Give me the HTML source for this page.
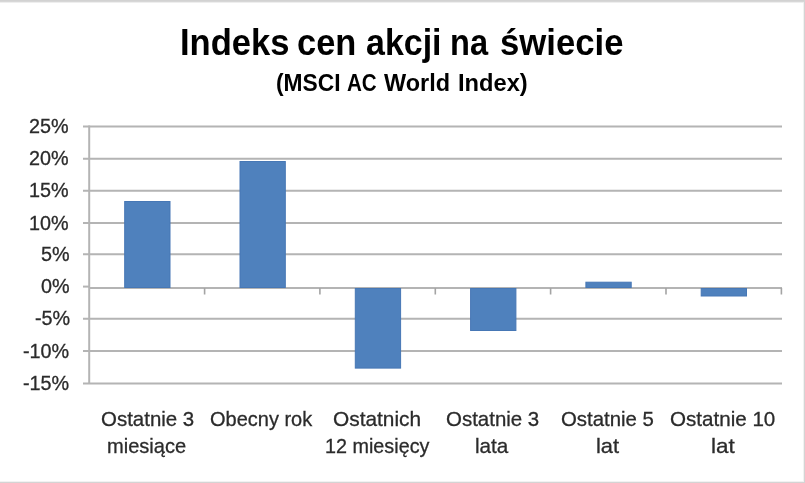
<!DOCTYPE html>
<html><head><meta charset="utf-8">
<style>
html,body{margin:0;padding:0;background:#fff;}
body{width:805px;height:483px;position:relative;overflow:hidden;font-family:"Liberation Sans",sans-serif;}
#wrap{position:absolute;left:0;top:0;width:805px;height:483px;filter:blur(0.45px);}
.t{position:absolute;white-space:nowrap;transform-origin:0 0;line-height:1;}
</style></head><body><div id="wrap">
<svg width="805" height="483" style="position:absolute;left:0;top:0">
  <g stroke="#b4b4b4" stroke-width="2" fill="none">
    <path d="M83 126.4H782M83 158.7H782M83 190.8H782M83 223.1H782M83 254.3H782M83 318.8H782M83 351.1H782M83 383.4H782"/>
    <path d="M83 286.6H89.2"/>
    <path d="M89.2 125.4V383.8"/>
    <path d="M89.3 287.9H782"/>
  </g>
  <path stroke="#a4a4a4" stroke-width="1.6" fill="none" d="M204.6 288v6.5M319.9 288v6.5M435.3 288v6.5M550.6 288v6.5M666 288v6.5M781.4 288v6.5"/>
  <g fill="#4f81bd" stroke="#4677b5" stroke-width="1">
    <rect x="124.7" y="201.5" width="45.3" height="86"/>
    <rect x="240.0" y="161.5" width="45.3" height="126"/>
    <rect x="355.3" y="288.5" width="45.3" height="79.6"/>
    <rect x="470.6" y="288.5" width="45.3" height="42"/>
    <rect x="585.9" y="282.2" width="45.3" height="5.3"/>
    <rect x="701.2" y="288.5" width="45.3" height="7.5"/>
  </g>
</svg>

<div class="t" style="left:179.86px;top:23.68px;font-size:37.0px;font-weight:bold;color:#000;transform:scaleX(0.9348);">Indeks</div>
<div class="t" style="left:297.00px;top:23.68px;font-size:37.0px;font-weight:bold;color:#000;transform:scaleX(0.9296);">cen</div>
<div class="t" style="left:365.89px;top:23.68px;font-size:37.0px;font-weight:bold;color:#000;transform:scaleX(0.9173);">akcji</div>
<div class="t" style="left:450.19px;top:23.68px;font-size:37.0px;font-weight:bold;color:#000;transform:scaleX(0.8801);">na</div>
<div class="t" style="left:500.30px;top:23.68px;font-size:37.0px;font-weight:bold;color:#000;transform:scaleX(0.9381);">świecie</div>
<div class="t" style="left:275.86px;top:71.93px;font-size:23px;font-weight:bold;color:#000;transform:scaleX(0.9908);">(MSCI</div>
<div class="t" style="left:346.74px;top:71.93px;font-size:23px;font-weight:bold;color:#000;transform:scaleX(0.8950);">AC</div>
<div class="t" style="left:384.48px;top:71.93px;font-size:23px;font-weight:bold;color:#000;transform:scaleX(1.0199);">World</div>
<div class="t" style="left:457.78px;top:71.93px;font-size:23px;font-weight:bold;color:#000;transform:scaleX(1.0291);">Index)</div>
<div class="t" style="left:28.98px;top:116.05px;font-size:20.5px;-webkit-text-stroke:0.3px #2b2b2b;color:#2b2b2b;transform:scaleX(0.9650);">25%</div>
<div class="t" style="left:28.98px;top:148.35px;font-size:20.5px;-webkit-text-stroke:0.3px #2b2b2b;color:#2b2b2b;transform:scaleX(0.9650);">20%</div>
<div class="t" style="left:28.98px;top:180.45px;font-size:20.5px;-webkit-text-stroke:0.3px #2b2b2b;color:#2b2b2b;transform:scaleX(0.9650);">15%</div>
<div class="t" style="left:28.98px;top:212.75px;font-size:20.5px;-webkit-text-stroke:0.3px #2b2b2b;color:#2b2b2b;transform:scaleX(0.9650);">10%</div>
<div class="t" style="left:41.07px;top:243.95px;font-size:20.5px;-webkit-text-stroke:0.3px #2b2b2b;color:#2b2b2b;transform:scaleX(0.9650);">5%</div>
<div class="t" style="left:41.07px;top:276.25px;font-size:20.5px;-webkit-text-stroke:0.3px #2b2b2b;color:#2b2b2b;transform:scaleX(0.9650);">0%</div>
<div class="t" style="left:34.78px;top:308.45px;font-size:20.5px;-webkit-text-stroke:0.3px #2b2b2b;color:#2b2b2b;transform:scaleX(0.9650);">-5%</div>
<div class="t" style="left:23.02px;top:340.75px;font-size:20.5px;-webkit-text-stroke:0.3px #2b2b2b;color:#2b2b2b;transform:scaleX(0.9650);">-10%</div>
<div class="t" style="left:22.92px;top:373.05px;font-size:20.5px;-webkit-text-stroke:0.3px #2b2b2b;color:#2b2b2b;transform:scaleX(0.9650);">-15%</div>
<div class="t" style="left:100.71px;top:407.82px;font-size:21px;-webkit-text-stroke:0.3px #2b2b2b;color:#2b2b2b;transform:scaleX(0.9740);">Ostatnie 3</div>
<div class="t" style="left:107.30px;top:434.92px;font-size:21px;-webkit-text-stroke:0.3px #2b2b2b;color:#2b2b2b;transform:scaleX(0.9556);">miesiące</div>
<div class="t" style="left:210.43px;top:407.82px;font-size:21px;-webkit-text-stroke:0.3px #2b2b2b;color:#2b2b2b;transform:scaleX(0.9520);">Obecny rok</div>
<div class="t" style="left:333.30px;top:407.82px;font-size:21px;-webkit-text-stroke:0.3px #2b2b2b;color:#2b2b2b;transform:scaleX(0.9930);">Ostatnich</div>
<div class="t" style="left:325.17px;top:434.92px;font-size:21px;-webkit-text-stroke:0.3px #2b2b2b;color:#2b2b2b;transform:scaleX(0.9418);">12 miesięcy</div>
<div class="t" style="left:446.31px;top:407.82px;font-size:21px;-webkit-text-stroke:0.3px #2b2b2b;color:#2b2b2b;transform:scaleX(0.9740);">Ostatnie 3</div>
<div class="t" style="left:475.45px;top:434.92px;font-size:21px;-webkit-text-stroke:0.3px #2b2b2b;color:#2b2b2b;transform:scaleX(0.9856);">lata</div>
<div class="t" style="left:561.32px;top:407.82px;font-size:21px;-webkit-text-stroke:0.3px #2b2b2b;color:#2b2b2b;transform:scaleX(0.9703);">Ostatnie 5</div>
<div class="t" style="left:596.17px;top:434.92px;font-size:21px;-webkit-text-stroke:0.3px #2b2b2b;color:#2b2b2b;transform:scaleX(1.0420);">lat</div>
<div class="t" style="left:670.41px;top:407.82px;font-size:21px;-webkit-text-stroke:0.3px #2b2b2b;color:#2b2b2b;transform:scaleX(0.9806);">Ostatnie 10</div>
<div class="t" style="left:710.93px;top:434.92px;font-size:21px;-webkit-text-stroke:0.3px #2b2b2b;color:#2b2b2b;transform:scaleX(1.0715);">lat</div>
</div>
<svg width="805" height="483" style="position:absolute;left:0;top:0">
<rect x="0" y="0" width="805" height="1" fill="#d2d2d2"/>
<rect x="0" y="1" width="805" height="1" fill="#d7d7d7"/>
<rect x="0" y="2" width="805" height="1" fill="#eeeeee"/>
<rect x="803" y="3" width="1" height="478" fill="#f2f2f2"/>
<rect x="804" y="0" width="1" height="483" fill="#d4d4d4"/>
<rect x="0" y="481" width="804" height="1" fill="#f2f2f2"/>
<rect x="0" y="482" width="805" height="1" fill="#d4d4d4"/>
</svg>
</body></html>
